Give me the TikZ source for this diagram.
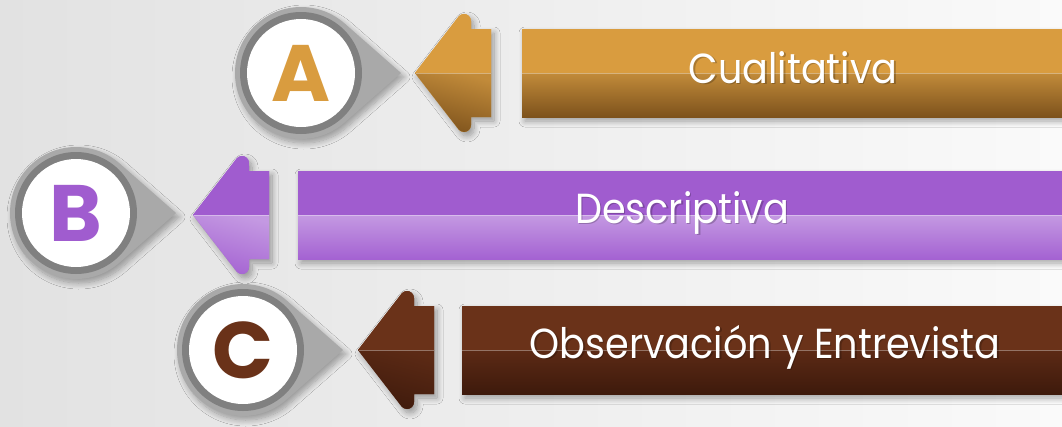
\documentclass[tikz,border=0pt]{standalone}
\usepackage{fontspec}
\usepackage{graphicx}
\newfontfamily\pop{Poppins}
\usetikzlibrary{shadows.blur}
\definecolor{bgL}{HTML}{E2E2E2}
\definecolor{bgR}{HTML}{FAFAFA}
\definecolor{ringL}{HTML}{A9A9A9}
\definecolor{ringD}{HTML}{808080}
\definecolor{aUp}{HTML}{D99C3F}
\definecolor{aLt}{HTML}{C28B3A}
\definecolor{aLb}{HTML}{7D521C}
\definecolor{bUp}{HTML}{A05CCF}
\definecolor{bLt}{HTML}{C499E2}
\definecolor{bLb}{HTML}{A462D2}
\definecolor{cUp}{HTML}{6A3219}
\definecolor{cLt}{HTML}{5C2A15}
\definecolor{cLb}{HTML}{3E1A0C}
\tikzset{
  softshadow/.style={blur shadow={shadow xshift=3pt,shadow yshift=-4pt,shadow blur steps=10,shadow blur radius=6pt,shadow opacity=35}},
  midline/.style={white,opacity=0.35,line width=0.8pt},
  lettertxt/.style={font=\pop\bfseries\fontsize{80}{80}\selectfont,inner sep=0pt},
  bartxt/.style={font=\pop\fontsize{42}{42}\selectfont,text=white,inner sep=0pt,anchor=base},
}
\newcommand\sq[1]{\scalebox{0.91}[1]{#1}}
% #1 cx, #2 cy, #3 letter, #4 colour, #5 name
\newcommand\badge[5]{%
  \begin{scope}[shift={(#1,#2)}]
    \fill[ringL,softshadow] (100,0) -- (44,49.2) arc[start angle=48.2,end angle=311.8,radius=66] -- cycle;
    \fill[ringD] (0,0) circle[radius=61];
    \fill[white] (0,0) circle[radius=54];
    \node[lettertxt,text=#4] (#5) at (0,0) {#3};
  \end{scope}}
% #1 tip x, #2 tip y, #3 upper colour, #4 lower top, #5 lower bottom
\newcommand\arrowhd[5]{%
  \begin{scope}[shift={(#1,#2)}]
    \fill[#3,softshadow] (0,0) -- (43.9,-56.8) arc[start angle=223.3,end angle=360,radius=7] -- (56,-44) -- (76,-44) -- (76,44) -- (56,44) -- (56,52) arc[start angle=0,end angle=136.7,radius=7] -- cycle;
    \fill[#3] (0,0) -- (43.9,-56.8) arc[start angle=223.3,end angle=360,radius=7] -- (56,-44) -- (76,-44) -- (76,0) -- cycle;
    \shade[top color=#4,bottom color=#5,shading angle=-15] (0,0) -- (76,0) -- (76,44) -- (56,44) -- (56,52) arc[start angle=0,end angle=136.7,radius=7] -- cycle;
    \draw[midline] (1,0) -- (76,0);
  \end{scope}}
% #1 x0, #2 ytop, #3 ymid, #4 ybot, #5 up, #6 lt, #7 lb
\newcommand\barshape[7]{%
  \fill[#5,softshadow] (#1,#2) rectangle (1062,#4);
  \fill[#5] (#1,#2) rectangle (1062,#3);
  \shade[top color=#6,bottom color=#7] (#1,#3) rectangle (1062,#4);
  \draw[midline] (#1,#3) -- (1062,#3);}
\begin{document}
\begin{tikzpicture}[x=1pt,y=-1pt]
\useasboundingbox (0,0) rectangle (1062,426);
\shade[left color=bgL,right color=bgR] (0,0) rectangle (1062,426);
% row A
\barshape{522}{29}{73}{117}{aUp}{aLt}{aLb}
\arrowhd{415}{73}{aUp}{aLt}{aLb}
\badge{301}{73}{A}{aUp}{letA}
\node[bartxt,text=black,opacity=0.22] at (794.5,84.5) {\sq{Cualitativa}};
\node[bartxt] (txtA) at (793,83) {\sq{Cualitativa}};
% row B
\barshape{298}{171}{215}{259}{bUp}{bLt}{bLb}
\arrowhd{193}{215}{bUp}{bLt}{bLb}
\badge{76}{213}{B}{bUp}{letB}
\node[bartxt,text=black,opacity=0.22] at (683.5,224.5) {\sq{Descriptiva}};
\node[bartxt] (txtB) at (682,223) {\sq{Descriptiva}};
% row C
\barshape{462}{306}{350}{394}{cUp}{cLt}{cLb}
\arrowhd{358}{350}{cUp}{cLt}{cLb}
\badge{243}{350}{C}{cUp}{letC}
\node[bartxt,text=black,opacity=0.22] at (766.5,359.5) {\sq{Observación y Entrevista}};
\node[bartxt] (txtC) at (765,358) {\sq{Observación y Entrevista}};
\end{tikzpicture}
\end{document}
